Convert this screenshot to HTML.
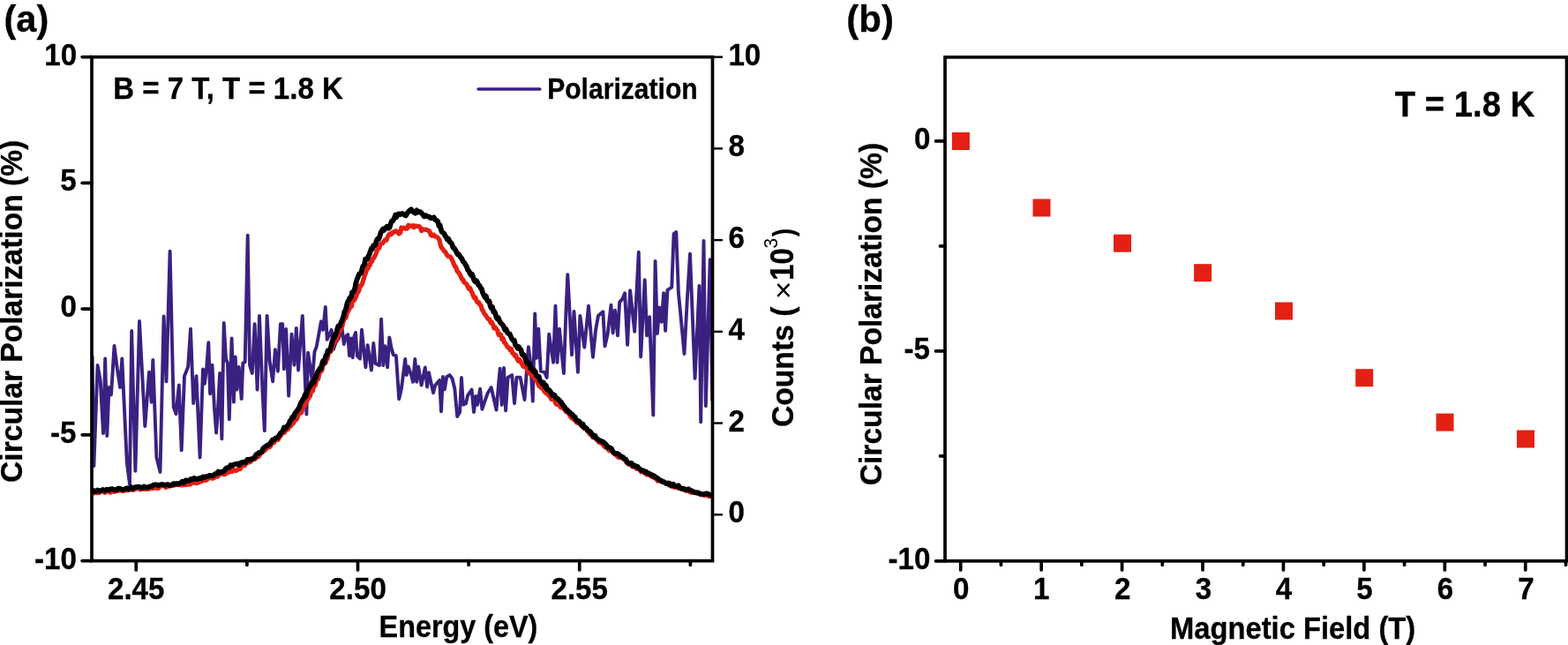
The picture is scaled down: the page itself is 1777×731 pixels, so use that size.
<!DOCTYPE html>
<html><head><meta charset="utf-8"><title>Figure</title>
<style>html,body{margin:0;padding:0;background:#fff;overflow:hidden}svg{display:block}</style>
</head><body>
<svg width="1777" height="731" viewBox="0 0 1777 731" font-family="'Liberation Sans', Arial, Helvetica, sans-serif" font-weight="bold">
<rect width="1777" height="731" fill="#fff"/>
<defs><clipPath id="ca"><rect x="104.0" y="64.6" width="703.5" height="571.0"/></clipPath></defs>
<g clip-path="url(#ca)">
<polyline points="104.6,404.0 106.4,528.0 110.6,414.0 113.7,431.0 117.0,491.0 119.2,406.5 121.3,494.0 123.5,439.0 126.0,447.5 129.5,392.0 132.8,417.5 136.1,439.0 138.3,406.5 143.8,524.0 147.0,548.8 149.2,375.0 153.4,533.7 158.0,364.0 164.3,483.0 169.0,421.6 171.7,455.8 173.3,408.0 177.4,518.5 181.5,534.9 185.6,358.5 188.5,432.3 192.6,284.6 196.7,461.0 199.5,469.2 202.8,436.4 205.7,510.3 209.0,426.2 213.1,415.9 216.0,372.8 219.2,457.0 222.5,426.2 226.6,518.5 230.0,418.4 231.9,434.7 234.2,416.0 236.3,388.1 238.1,446.3 240.5,413.7 242.8,460.2 245.1,490.5 246.7,469.5 249.1,423.0 251.4,497.4 253.7,366.0 256.0,406.7 257.9,411.4 259.8,475.3 262.6,383.5 264.9,455.6 266.7,404.4 268.4,441.6 270.7,416.0 273.7,452.1 275.3,411.4 277.7,410.2 280.7,266.6 283.0,413.7 285.8,423.0 288.6,367.2 291.6,441.6 294.0,357.9 297.4,441.6 299.8,488.1 302.6,357.9 305.6,409.1 309.1,432.3 311.9,396.3 314.9,420.7 317.9,367.2 320.2,367.2 321.9,418.4 324.2,373.0 327.2,448.6 330.5,378.8 333.5,413.7 335.8,371.9 338.1,419.5 340.5,385.8 342.8,357.9 345.8,432.3 347.4,469.5 349.1,399.8 353.8,431.3 356.5,398.5 358.7,393.0 363.9,364.3 366.1,373.9 368.8,347.9 370.7,384.8 375.7,373.9 377.9,395.8 380.6,388.0 383.9,383.5 387.7,372.5 389.8,390.0 392.0,381.3 394.2,379.1 396.0,403.2 397.9,383.5 399.7,405.4 401.4,381.3 403.0,376.9 404.7,403.2 408.0,406.5 410.0,373.6 412.2,396.6 414.4,416.3 416.6,391.1 420.9,419.6 423.3,389.0 425.5,411.9 429.9,414.1 432.1,361.6 434.3,414.1 436.5,392.2 439.1,416.3 441.3,382.4 443.5,394.4 445.7,402.1 448.9,403.2 452.2,452.4 455.0,440.0 459.2,406.9 460.7,425.1 462.7,415.5 466.1,425.1 468.0,432.8 470.3,406.9 472.2,432.8 474.2,415.5 477.6,436.6 481.8,416.5 484.1,438.5 486.0,422.2 491.0,445.2 493.3,436.6 498.1,430.9 500.0,466.3 501.9,427.0 503.8,441.4 506.3,427.0 509.6,425.1 512.5,429.0 515.3,440.4 518.2,472.0 521.1,467.3 523.0,428.0 524.9,458.6 528.0,457.2 530.1,448.1 534.6,441.6 537.0,467.0 539.2,448.9 541.1,458.8 544.1,440.7 546.4,463.7 552.6,445.7 556.7,439.1 562.5,464.5 566.6,417.8 568.7,458.8 571.0,416.9 573.1,465.4 575.6,427.6 580.2,425.1 583.0,457.2 585.5,427.6 589.6,427.6 594.5,453.0 596.6,424.3 598.9,393.1 601.4,412.8 603.8,454.7 606.2,355.4 608.1,405.9 610.3,372.6 612.8,420.7 617.2,421.9 619.7,428.0 622.2,378.8 627.1,410.8 629.5,346.8 631.5,410.8 634.0,372.6 636.4,398.5 638.9,423.1 641.4,354.2 643.3,311.1 645.6,354.2 648.0,402.2 650.5,352.9 654.9,421.9 657.4,357.9 662.3,393.6 667.0,346.8 671.9,404.7 675.1,373.9 678.0,357.8 683.4,353.3 685.5,392.4 688.6,378.9 692.5,345.8 694.6,377.4 697.0,351.8 700.0,380.4 702.1,342.8 705.7,338.2 708.1,332.2 711.1,390.9 714.1,329.2 719.2,375.9 723.8,285.6 726.2,404.4 730.7,317.2 733.1,380.4 736.1,359.3 740.3,470.5 742.6,296.0 744.9,378.0 747.2,348.5 749.8,364.9 752.1,332.1 754.1,374.8 756.4,328.8 761.3,325.5 763.6,264.8 766.3,263.1 768.9,332.1 771.2,355.1 775.5,401.0 778.7,341.9 782.0,287.8 787.6,428.9 792.5,323.9 794.2,478.2 797.5,273.0 799.8,460.1 804.7,294.3 807.3,453.5" fill="none" stroke="#3a2181" stroke-width="3.9" stroke-linejoin="round" stroke-linecap="round" />
<polyline points="104.0,558.3 106.1,558.9 108.2,558.3 110.3,558.6 112.4,558.5 114.5,556.9 116.6,556.5 118.7,558.4 120.8,556.8 122.9,556.5 125.0,558.2 127.1,556.7 129.2,557.4 131.3,556.3 133.4,556.5 135.5,555.1 137.6,556.1 139.7,556.5 141.8,555.4 143.9,555.8 146.0,555.5 148.1,553.8 150.2,555.3 152.3,554.7 154.5,553.9 156.6,553.0 158.7,554.9 160.8,553.8 162.9,554.2 165.0,554.5 167.2,553.9 169.3,554.2 171.4,552.7 173.5,553.5 175.6,552.4 177.7,553.4 179.8,553.1 181.9,550.9 183.9,550.7 186.0,550.7 188.1,552.4 190.2,550.8 192.3,551.1 194.4,550.0 196.4,550.3 198.5,549.7 200.6,549.3 202.7,549.7 204.7,549.4 206.8,549.9 208.8,549.1 210.9,549.4 212.9,548.9 215.0,549.0 217.0,547.8 219.0,546.1 221.1,547.5 223.1,547.4 225.1,546.8 227.0,545.5 229.0,545.4 231.0,543.5 232.9,544.6 234.8,543.3 236.7,541.9 238.6,540.7 240.5,542.3 242.4,542.0 244.2,538.8 246.1,540.2 248.0,538.5 249.9,537.1 251.8,536.9 253.7,537.6 255.6,537.3 257.5,534.4 259.4,535.4 261.2,533.1 263.1,534.4 265.0,532.6 266.9,533.5 268.7,533.0 270.5,530.9 272.3,531.5 274.1,528.6 275.8,526.9 277.5,527.5 279.2,524.7 280.9,524.2 282.6,523.7 284.2,523.2 285.8,520.5 287.4,519.0 289.0,520.4 290.6,517.3 292.2,518.2 293.7,516.8 295.3,513.7 296.8,512.7 298.4,511.5 299.9,510.7 301.4,509.2 303.0,507.7 304.5,506.6 306.1,506.4 307.6,503.5 309.1,501.9 310.6,501.6 312.2,498.5 313.7,497.4 315.2,498.3 316.7,495.3 318.2,494.0 319.7,490.7 321.2,490.7 322.6,489.9 324.1,486.4 325.6,487.0 327.0,485.6 328.5,481.9 329.9,482.5 331.3,480.2 332.7,479.4 334.1,476.3 335.4,476.0 336.8,474.2 338.0,469.4 339.3,467.6 340.5,468.3 341.7,467.6 342.9,462.4 344.1,461.3 345.3,459.9 346.5,456.7 347.7,454.9 348.9,452.5 350.1,450.5 351.2,449.3 352.2,445.5 353.3,443.6 354.4,443.3 355.4,437.2 356.5,437.7 357.5,436.2 358.5,431.7 359.6,428.9 360.6,429.6 361.7,424.4 362.7,421.9 363.8,420.8 364.8,419.8 365.9,414.5 366.9,413.3 368.0,411.1 369.0,411.3 370.1,407.0 371.1,406.8 372.1,401.0 373.2,399.6 374.2,398.9 375.3,397.7 376.4,393.5 377.5,390.3 378.6,387.6 379.8,387.3 380.8,383.3 381.9,384.1 382.9,381.9 383.9,375.9 384.9,374.0 385.9,374.4 386.9,371.2 387.9,369.6 388.9,365.0 390.0,361.6 391.0,360.1 392.1,360.3 393.1,355.4 394.2,353.5 395.2,351.5 396.3,349.2 397.3,346.9 398.4,347.2 399.4,341.0 400.5,338.0 401.5,340.4 402.6,337.8 403.7,336.1 404.7,331.1 405.8,331.3 406.9,329.0 408.1,323.7 409.2,323.9 410.3,322.0 411.3,318.7 412.3,315.6 413.3,311.9 414.3,309.8 415.3,306.8 416.3,303.6 417.3,304.0 418.3,300.1 419.4,300.4 420.4,294.5 421.5,296.5 422.6,293.3 423.7,292.3 424.9,290.0 426.0,287.9 427.2,284.5 428.4,280.1 429.7,281.3 430.9,277.2 432.3,276.0 433.6,275.8 435.0,273.8 436.5,271.8 437.9,272.2 439.2,268.9 440.5,266.4 442.0,264.8 443.5,265.6 445.1,263.2 446.8,263.1 448.6,261.6 450.4,262.7 451.9,264.9 453.8,263.8 454.9,258.0 455.9,258.7 457.3,258.0 459.4,259.2 461.3,259.2 462.9,255.3 464.5,256.2 466.1,256.1 468.1,255.7 469.2,257.7 470.9,256.0 472.5,256.4 474.7,256.4 476.5,258.2 477.7,261.7 478.9,260.2 481.0,260.2 483.1,260.4 484.9,261.2 486.7,262.0 488.3,266.4 489.8,267.3 491.4,265.9 493.1,267.9 495.0,268.4 496.5,269.8 497.9,271.8 499.0,276.8 499.9,279.9 500.7,281.0 501.9,282.3 503.2,284.5 504.6,285.3 506.1,288.3 507.5,290.3 509.0,290.6 510.5,291.2 511.8,293.3 513.2,296.1 514.4,299.3 515.6,302.3 516.7,302.6 517.8,306.7 518.9,308.0 520.1,309.3 521.2,311.1 522.4,313.7 523.6,316.5 524.8,317.1 526.1,320.1 527.4,320.9 528.7,321.8 530.0,324.8 531.3,327.2 532.6,326.5 533.9,329.8 535.1,331.7 536.4,335.5 537.6,337.7 538.9,337.2 540.1,341.4 541.3,342.9 542.6,342.6 543.8,345.4 545.0,345.9 546.2,350.8 547.4,352.2 548.7,355.1 549.9,356.7 551.1,358.2 552.3,360.4 553.5,361.6 554.7,361.6 556.0,365.5 557.2,365.0 558.5,367.4 559.8,371.8 561.1,370.7 562.4,372.7 563.7,374.5 565.0,379.4 566.3,378.4 567.6,379.5 568.9,384.6 570.2,383.5 571.5,388.1 572.9,389.2 574.2,391.6 575.5,393.8 576.8,394.1 578.1,396.7 579.5,395.4 580.8,400.1 582.1,400.8 583.4,403.4 584.8,402.7 586.1,406.9 587.5,409.3 588.8,407.6 590.2,410.2 591.6,412.7 593.0,415.4 594.4,414.8 595.8,416.1 597.2,418.0 598.6,421.1 599.9,423.2 601.3,423.5 602.7,425.0 604.1,426.8 605.4,428.4 606.8,430.3 608.1,430.7 609.5,434.0 610.9,437.5 612.2,437.0 613.6,439.9 615.0,439.3 616.4,442.8 617.8,444.6 619.2,445.8 620.7,446.8 622.1,448.1 623.6,450.2 625.0,452.6 626.5,451.4 628.0,452.6 629.4,456.4 630.9,458.4 632.4,458.3 633.9,459.5 635.5,461.8 637.0,461.3 638.5,462.9 640.0,464.1 641.5,466.8 643.0,467.2 644.5,468.3 646.0,471.4 647.5,473.7 649.0,472.8 650.5,475.7 652.0,476.1 653.5,479.0 655.0,479.4 656.5,479.7 658.0,480.9 659.5,481.6 661.0,484.6 662.5,485.7 664.0,486.3 665.6,488.3 667.1,489.5 668.6,492.4 670.2,491.5 671.7,495.7 673.3,495.3 674.8,497.0 676.4,497.8 677.9,500.4 679.5,501.6 681.0,502.0 682.6,503.0 684.2,505.1 685.7,506.8 687.3,506.5 688.9,508.9 690.5,510.9 692.0,510.4 693.6,510.9 695.2,512.1 696.8,514.8 698.4,515.9 700.1,517.9 701.7,518.7 703.3,517.9 705.0,518.8 706.6,520.2 708.2,521.1 709.9,523.8 711.5,525.4 713.2,526.6 714.8,525.7 716.5,528.7 718.2,528.0 719.8,529.4 721.5,531.4 723.2,530.4 724.9,531.5 726.6,534.8 728.3,534.1 730.0,535.3 731.7,536.9 733.4,538.1 735.1,537.0 736.9,539.0 738.6,540.2 740.4,541.2 742.1,541.3 743.9,543.3 745.7,545.2 747.4,544.4 749.2,545.6 751.0,545.2 752.8,546.4 754.7,548.2 756.5,547.4 758.4,550.2 760.2,550.9 762.1,549.3 764.0,552.3 765.9,551.3 767.8,553.0 769.7,553.6 771.6,552.9 773.5,554.5 775.4,555.1 777.3,556.1 779.2,555.2 781.1,557.1 783.0,558.2 785.0,557.9 786.9,558.1 788.8,557.5 790.8,559.0 792.7,559.2 794.7,560.7 796.6,561.0 798.6,561.2 800.5,560.6 802.5,562.3 804.5,562.7" fill="none" stroke="#e32013" stroke-width="5.2" stroke-linejoin="round" stroke-linecap="round" />
<polyline points="104.0,556.6 106.1,556.0 108.2,557.1 110.4,555.5 112.5,556.5 114.6,555.9 116.8,555.0 118.9,556.0 121.0,554.6 123.1,555.5 125.2,554.4 127.3,554.2 129.4,554.9 131.5,555.7 133.6,553.7 135.7,553.7 137.8,554.5 139.9,555.1 142.0,553.9 144.1,553.2 146.2,554.5 148.3,552.0 150.4,553.9 152.5,552.3 154.7,551.8 156.8,551.7 158.9,552.0 161.1,553.2 163.2,551.5 165.4,552.3 167.5,552.3 169.6,551.3 171.6,551.4 173.6,549.8 175.6,549.3 177.6,549.3 179.6,550.2 181.7,549.4 183.8,549.0 186.0,549.7 188.1,549.5 190.3,549.1 192.5,550.2 194.6,549.7 196.6,548.1 198.6,548.6 200.6,548.0 202.5,548.4 204.5,547.5 206.4,545.8 208.4,547.2 210.3,544.3 212.2,544.6 214.2,545.0 216.2,543.0 218.1,543.4 220.1,541.8 222.1,543.0 224.1,542.8 226.1,541.9 228.1,542.3 230.0,540.3 232.0,540.9 234.0,540.1 235.9,539.6 237.9,538.8 239.8,539.3 241.8,539.0 243.7,537.1 245.6,537.0 247.4,534.6 249.3,535.7 251.1,534.7 252.8,534.8 254.5,533.3 256.2,530.7 258.0,530.0 259.7,530.0 261.4,527.2 263.2,527.8 265.1,526.5 267.1,526.0 269.1,525.5 271.1,526.9 273.0,524.4 274.9,524.0 276.7,523.6 278.5,524.2 280.3,521.0 282.0,521.2 283.8,520.5 285.5,520.6 287.2,519.3 288.8,518.3 290.4,515.2 292.0,514.4 293.6,512.9 295.1,513.4 296.6,512.3 298.2,508.2 299.7,507.0 301.3,505.9 302.8,504.6 304.4,504.2 305.9,503.2 307.4,500.7 309.0,498.4 310.5,498.5 312.0,496.9 313.4,496.1 314.9,496.0 316.3,493.4 317.7,491.2 319.1,490.0 320.5,488.5 321.9,484.4 323.2,486.0 324.6,483.9 325.9,482.6 327.3,480.5 328.6,477.2 330.0,475.6 331.3,472.7 332.7,473.1 334.0,469.0 335.3,467.1 336.6,465.8 337.9,463.5 339.1,462.2 340.2,458.7 341.3,456.2 342.4,454.7 343.5,452.1 344.6,451.1 345.7,447.2 346.7,449.1 347.8,445.6 348.9,441.3 350.0,439.7 351.2,438.1 352.3,436.2 353.5,433.1 354.7,434.3 355.9,432.9 357.1,428.5 358.3,426.6 359.5,422.6 360.6,420.5 361.7,419.5 362.9,416.9 364.0,417.4 365.1,412.0 366.2,409.0 367.2,411.3 368.3,407.0 369.4,402.8 370.4,402.4 371.5,397.4 372.5,397.7 373.5,397.6 374.5,394.6 375.5,391.3 376.5,386.6 377.5,384.7 378.5,381.2 379.4,382.0 380.4,378.3 381.4,377.2 382.4,372.4 383.4,369.5 384.4,370.2 385.5,368.7 386.5,365.7 387.5,363.1 388.5,360.8 389.5,358.0 390.5,352.8 391.5,351.9 392.4,348.5 393.4,344.2 394.3,341.6 395.2,340.5 396.2,337.8 397.1,337.7 398.0,336.7 399.0,331.4 400.0,331.5 401.2,329.5 402.2,326.9 403.2,321.2 404.2,318.0 405.1,315.6 406.1,312.9 407.1,310.5 408.0,310.4 409.0,309.4 410.0,306.6 411.0,302.4 412.0,301.0 413.1,299.5 414.1,293.7 415.2,294.4 416.3,293.4 417.4,290.6 418.6,288.4 419.7,285.0 420.9,281.6 422.0,282.3 423.2,278.2 424.4,278.3 425.6,277.0 426.8,272.5 428.0,270.6 429.2,271.0 430.4,267.9 431.6,263.5 432.8,261.3 434.0,259.6 435.2,260.9 436.6,258.8 438.4,256.8 440.2,258.8 441.6,257.6 442.7,253.7 443.8,250.7 445.2,250.4 446.9,247.2 448.2,243.6 449.2,246.3 450.3,243.3 451.8,242.3 453.7,243.0 455.9,241.9 458.1,243.5 459.8,244.4 461.9,241.1 463.2,239.6 464.6,238.2 466.0,237.3 468.0,240.0 469.3,240.6 470.7,241.6 472.3,238.3 473.8,240.6 475.8,239.9 477.5,241.2 479.2,243.1 480.7,245.3 482.4,244.1 484.5,245.3 486.4,245.7 487.9,247.0 489.6,247.3 491.7,246.3 493.3,249.2 494.7,249.8 496.1,250.8 497.4,256.0 498.6,255.2 499.6,259.5 500.6,262.5 501.8,263.6 503.1,264.4 504.4,267.0 505.7,268.9 507.0,271.6 508.3,270.7 509.6,274.3 510.9,274.8 512.2,276.7 513.5,280.6 514.8,281.3 516.1,283.3 517.4,285.9 518.7,288.3 520.0,288.2 521.3,290.8 522.6,292.2 523.9,294.2 525.1,296.9 526.3,297.8 527.6,300.1 528.8,301.8 530.0,305.8 531.2,306.7 532.4,309.5 533.7,311.7 534.9,310.7 536.1,314.0 537.3,317.6 538.5,319.1 539.8,318.0 541.0,319.9 542.2,323.2 543.4,323.6 544.6,326.3 545.9,327.5 547.1,332.0 548.3,334.4 549.6,336.9 550.8,335.6 552.0,340.0 553.2,341.7 554.5,341.4 555.6,346.7 556.8,349.2 558.0,347.9 559.2,353.5 560.3,353.0 561.4,355.6 562.6,360.0 563.7,361.4 564.9,360.4 566.0,363.6 567.2,365.9 568.5,367.0 569.7,368.3 571.0,370.6 572.3,374.0 573.6,373.0 575.0,376.9 576.3,378.2 577.6,378.3 578.9,381.3 580.2,384.3 581.5,385.6 582.8,385.6 584.1,391.1 585.4,392.1 586.7,394.7 588.0,393.0 589.3,395.6 590.5,396.6 591.7,401.8 592.9,401.6 594.1,403.0 595.3,406.3 596.5,410.4 597.7,411.9 598.9,411.4 600.2,412.8 601.5,417.8 602.8,418.2 604.1,420.5 605.4,419.8 606.7,421.5 608.0,425.7 609.4,426.4 610.7,426.8 612.0,431.9 613.4,432.4 614.7,434.8 616.1,433.7 617.4,438.3 618.8,436.9 620.2,441.6 621.6,441.6 623.0,442.8 624.4,445.1 625.8,448.1 627.3,447.2 628.7,448.2 630.1,451.2 631.6,451.7 633.0,452.7 634.4,454.5 635.8,455.7 637.2,457.8 638.6,459.8 640.0,461.4 641.4,464.7 642.8,464.5 644.2,466.9 645.7,467.2 647.1,469.3 648.6,469.6 650.0,471.9 651.5,472.4 653.0,476.3 654.6,477.0 656.1,477.1 657.6,479.4 659.2,482.3 660.7,480.8 662.2,484.7 663.8,484.7 665.3,486.3 666.8,488.8 668.3,488.7 669.8,490.4 671.3,492.4 672.9,494.8 674.4,493.9 675.9,496.9 677.4,497.8 679.0,498.9 680.5,499.4 682.1,500.5 683.6,500.9 685.2,502.4 686.7,503.5 688.3,507.0 689.8,506.6 691.4,507.6 693.0,508.5 694.6,512.2 696.2,513.5 697.8,514.0 699.4,513.9 701.1,514.9 702.7,516.2 704.3,517.9 706.0,518.1 707.6,520.1 709.2,520.6 710.9,524.0 712.5,525.2 714.2,524.9 715.8,525.0 717.5,528.4 719.1,527.4 720.8,528.7 722.4,528.6 724.1,530.9 725.8,532.2 727.5,533.3 729.2,533.3 730.9,535.2 732.6,534.7 734.3,536.4 736.0,536.8 737.8,538.7 739.5,538.5 741.3,539.3 743.0,541.0 744.8,541.7 746.6,543.6 748.4,544.2 750.2,545.7 752.0,546.1 753.8,547.1 755.6,548.2 757.5,547.5 759.3,548.0 761.2,550.5 763.1,548.8 765.0,551.0 766.9,551.4 768.8,550.3 770.7,553.1 772.6,553.9 774.5,553.7 776.4,554.6 778.3,555.4 780.2,554.1 782.1,555.7 784.1,556.2 786.0,557.6 787.9,558.1 789.9,558.7 791.8,558.5 793.7,559.9 795.7,559.8 797.6,560.3 799.6,559.5 801.6,559.5 803.5,560.2 805.5,561.3" fill="none" stroke="#000" stroke-width="5.8" stroke-linejoin="round" stroke-linecap="round" />
</g>
<line x1="93.20" y1="635.60" x2="104.00" y2="635.60" stroke="#000" stroke-width="3.7" stroke-linecap="round"/>
<line x1="93.20" y1="492.85" x2="104.00" y2="492.85" stroke="#000" stroke-width="3.7" stroke-linecap="round"/>
<line x1="93.20" y1="350.10" x2="104.00" y2="350.10" stroke="#000" stroke-width="3.7" stroke-linecap="round"/>
<line x1="93.20" y1="207.35" x2="104.00" y2="207.35" stroke="#000" stroke-width="3.7" stroke-linecap="round"/>
<line x1="93.20" y1="64.60" x2="104.00" y2="64.60" stroke="#000" stroke-width="3.7" stroke-linecap="round"/>
<line x1="807.50" y1="583.30" x2="819.00" y2="583.30" stroke="#000" stroke-width="2.4" stroke-linecap="butt"/>
<line x1="807.50" y1="479.56" x2="819.00" y2="479.56" stroke="#000" stroke-width="2.4" stroke-linecap="butt"/>
<line x1="807.50" y1="375.82" x2="819.00" y2="375.82" stroke="#000" stroke-width="2.4" stroke-linecap="butt"/>
<line x1="807.50" y1="272.08" x2="819.00" y2="272.08" stroke="#000" stroke-width="2.4" stroke-linecap="butt"/>
<line x1="807.50" y1="168.34" x2="819.00" y2="168.34" stroke="#000" stroke-width="2.4" stroke-linecap="butt"/>
<line x1="807.50" y1="64.60" x2="819.00" y2="64.60" stroke="#000" stroke-width="2.4" stroke-linecap="butt"/>
<line x1="154.25" y1="635.60" x2="154.25" y2="645.90" stroke="#000" stroke-width="3.7" stroke-linecap="round"/>
<line x1="405.50" y1="635.60" x2="405.50" y2="645.90" stroke="#000" stroke-width="3.7" stroke-linecap="round"/>
<line x1="656.75" y1="635.60" x2="656.75" y2="645.90" stroke="#000" stroke-width="3.7" stroke-linecap="round"/>
<line x1="279.88" y1="635.60" x2="279.88" y2="640.30" stroke="#000" stroke-width="3.7" stroke-linecap="round"/>
<line x1="531.12" y1="635.60" x2="531.12" y2="640.30" stroke="#000" stroke-width="3.7" stroke-linecap="round"/>
<line x1="782.38" y1="635.60" x2="782.38" y2="640.30" stroke="#000" stroke-width="3.7" stroke-linecap="round"/>
<rect x="104.0" y="64.6" width="703.5" height="571.0" fill="none" stroke="#000" stroke-width="3.7"/>
<line x1="542.00" y1="101.00" x2="611.90" y2="101.00" stroke="#3a2181" stroke-width="3.5" stroke-linecap="round"/>
<line x1="1060.50" y1="159.97" x2="1071.00" y2="159.97" stroke="#000" stroke-width="3.7" stroke-linecap="round"/>
<line x1="1060.50" y1="397.88" x2="1071.00" y2="397.88" stroke="#000" stroke-width="3.7" stroke-linecap="round"/>
<line x1="1060.50" y1="635.80" x2="1071.00" y2="635.80" stroke="#000" stroke-width="3.7" stroke-linecap="round"/>
<line x1="1065.50" y1="278.93" x2="1071.00" y2="278.93" stroke="#000" stroke-width="3.7" stroke-linecap="round"/>
<line x1="1065.50" y1="516.84" x2="1071.00" y2="516.84" stroke="#000" stroke-width="3.7" stroke-linecap="round"/>
<line x1="1088.70" y1="635.80" x2="1088.70" y2="645.90" stroke="#000" stroke-width="3.7" stroke-linecap="round"/>
<line x1="1180.14" y1="635.80" x2="1180.14" y2="645.90" stroke="#000" stroke-width="3.7" stroke-linecap="round"/>
<line x1="1271.58" y1="635.80" x2="1271.58" y2="645.90" stroke="#000" stroke-width="3.7" stroke-linecap="round"/>
<line x1="1363.02" y1="635.80" x2="1363.02" y2="645.90" stroke="#000" stroke-width="3.7" stroke-linecap="round"/>
<line x1="1454.46" y1="635.80" x2="1454.46" y2="645.90" stroke="#000" stroke-width="3.7" stroke-linecap="round"/>
<line x1="1545.90" y1="635.80" x2="1545.90" y2="645.90" stroke="#000" stroke-width="3.7" stroke-linecap="round"/>
<line x1="1637.34" y1="635.80" x2="1637.34" y2="645.90" stroke="#000" stroke-width="3.7" stroke-linecap="round"/>
<line x1="1728.78" y1="635.80" x2="1728.78" y2="645.90" stroke="#000" stroke-width="3.7" stroke-linecap="round"/>
<line x1="1134.42" y1="635.80" x2="1134.42" y2="640.30" stroke="#000" stroke-width="3.7" stroke-linecap="round"/>
<line x1="1225.86" y1="635.80" x2="1225.86" y2="640.30" stroke="#000" stroke-width="3.7" stroke-linecap="round"/>
<line x1="1317.30" y1="635.80" x2="1317.30" y2="640.30" stroke="#000" stroke-width="3.7" stroke-linecap="round"/>
<line x1="1408.74" y1="635.80" x2="1408.74" y2="640.30" stroke="#000" stroke-width="3.7" stroke-linecap="round"/>
<line x1="1500.18" y1="635.80" x2="1500.18" y2="640.30" stroke="#000" stroke-width="3.7" stroke-linecap="round"/>
<line x1="1591.62" y1="635.80" x2="1591.62" y2="640.30" stroke="#000" stroke-width="3.7" stroke-linecap="round"/>
<line x1="1683.06" y1="635.80" x2="1683.06" y2="640.30" stroke="#000" stroke-width="3.7" stroke-linecap="round"/>
<line x1="1774.50" y1="635.80" x2="1774.50" y2="640.30" stroke="#000" stroke-width="3.7" stroke-linecap="round"/>
<rect x="1071.0" y="64.8" width="704.5" height="571.0" fill="none" stroke="#000" stroke-width="3.7"/>
<rect x="1078.90" y="150.00" width="20" height="20" fill="#e32013"/>
<rect x="1170.50" y="225.50" width="20" height="20" fill="#e32013"/>
<rect x="1262.00" y="265.70" width="20" height="20" fill="#e32013"/>
<rect x="1353.10" y="299.20" width="20" height="20" fill="#e32013"/>
<rect x="1445.00" y="342.50" width="20" height="20" fill="#e32013"/>
<rect x="1536.20" y="418.20" width="20" height="20" fill="#e32013"/>
<rect x="1627.50" y="468.60" width="20" height="20" fill="#e32013"/>
<rect x="1719.00" y="487.50" width="20" height="20" fill="#e32013"/>
<text transform="translate(4.55,35.85) scale(0.9771,1.000)" font-size="42.5" stroke="#000" stroke-width="0.3">(a)</text>
<text transform="translate(959.33,35.70) scale(0.9871,1.000)" font-size="42.5" stroke="#000" stroke-width="0.3">(b)</text>
<text transform="translate(429.60,722.25) scale(0.9515,1.005)" font-size="34" stroke="#000" stroke-width="0.3">Energy (eV)</text>
<text transform="translate(1325.97,723.90) scale(0.9632,1.005)" font-size="34" stroke="#000" stroke-width="0.3">Magnetic Field (T)</text>
<text transform="translate(620.17,111.50) scale(0.9902,1.075)" font-size="30.4" stroke="#000" stroke-width="0.3">Polarization</text>
<text transform="translate(128.22,112.30) scale(0.9885,1.045)" font-size="33.4" stroke="#000" stroke-width="0.3">B = 7 T, T = 1.8 K</text>
<text transform="translate(1580.85,131.90) scale(0.9890,1.030)" font-size="38.7" stroke="#000" stroke-width="0.3">T = 1.8 K</text>
<text transform="translate(24.90,546.94) rotate(-90) scale(0.9881,1.005)" font-size="34" stroke="#000" stroke-width="0.3">Circular Polarization (%)</text>
<text transform="translate(999.00,550.24) rotate(-90) scale(0.9889,1.005)" font-size="34" stroke="#000" stroke-width="0.3">Circular Polarization (%)</text>
<text transform="translate(899.20,484.04) rotate(-90) scale(0.9901,1.005)" font-size="34" stroke="#000" stroke-width="0.3">Counts (</text>
<text transform="translate(898.90,339.30) rotate(-90) scale(1.0400,1.000)" font-size="34" font-weight="normal">×</text>
<text transform="translate(899.10,317.83) rotate(-90) scale(0.9652,1.080)" font-size="34" stroke="#000" stroke-width="0.3">10</text>
<text transform="translate(880.70,281.53) rotate(-90) scale(0.9756,1.040)" font-size="21.5" font-weight="normal">3</text>
<text transform="translate(899.20,268.10) rotate(-90) scale(0.8000,1.000)" font-size="34" stroke="#000" stroke-width="0.3">)</text>
<text transform="translate(39.00,644.70) scale(0.9750,1.010)" font-size="34" stroke="#000" stroke-width="0.3">-10</text>
<text transform="translate(57.04,501.95) scale(0.9750,1.010)" font-size="34" stroke="#000" stroke-width="0.3">-5</text>
<text transform="translate(68.49,359.20) scale(0.9750,1.010)" font-size="34" stroke="#000" stroke-width="0.3">0</text>
<text transform="translate(68.25,216.45) scale(0.9750,1.010)" font-size="34" stroke="#000" stroke-width="0.3">5</text>
<text transform="translate(50.21,73.70) scale(0.9750,1.010)" font-size="34" stroke="#000" stroke-width="0.3">10</text>
<text transform="translate(825.38,592.40) scale(0.9750,1.010)" font-size="34" stroke="#000" stroke-width="0.3">0</text>
<text transform="translate(825.38,488.66) scale(0.9750,1.010)" font-size="34" stroke="#000" stroke-width="0.3">2</text>
<text transform="translate(825.38,384.92) scale(0.9750,1.010)" font-size="34" stroke="#000" stroke-width="0.3">4</text>
<text transform="translate(825.38,281.18) scale(0.9750,1.010)" font-size="34" stroke="#000" stroke-width="0.3">6</text>
<text transform="translate(825.38,177.44) scale(0.9750,1.010)" font-size="34" stroke="#000" stroke-width="0.3">8</text>
<text transform="translate(825.38,73.70) scale(0.9750,1.010)" font-size="34" stroke="#000" stroke-width="0.3">10</text>
<text transform="translate(121.95,678.60) scale(0.9750,1.010)" font-size="34" stroke="#000" stroke-width="0.3">2.45</text>
<text transform="translate(373.33,678.60) scale(0.9750,1.010)" font-size="34" stroke="#000" stroke-width="0.3">2.50</text>
<text transform="translate(624.45,678.60) scale(0.9750,1.010)" font-size="34" stroke="#000" stroke-width="0.3">2.55</text>
<text transform="translate(1035.89,169.07) scale(0.9750,1.010)" font-size="34" stroke="#000" stroke-width="0.3">0</text>
<text transform="translate(1024.44,406.98) scale(0.9750,1.010)" font-size="34" stroke="#000" stroke-width="0.3">-5</text>
<text transform="translate(1006.40,644.90) scale(0.9750,1.010)" font-size="34" stroke="#000" stroke-width="0.3">-10</text>
<text transform="translate(1080.04,678.60) scale(0.9750,1.010)" font-size="34" stroke="#000" stroke-width="0.3">0</text>
<text transform="translate(1170.99,678.60) scale(0.9750,1.010)" font-size="34" stroke="#000" stroke-width="0.3">1</text>
<text transform="translate(1263.04,678.60) scale(0.9750,1.010)" font-size="34" stroke="#000" stroke-width="0.3">2</text>
<text transform="translate(1354.72,678.60) scale(0.9750,1.010)" font-size="34" stroke="#000" stroke-width="0.3">3</text>
<text transform="translate(1445.68,678.60) scale(0.9750,1.010)" font-size="34" stroke="#000" stroke-width="0.3">4</text>
<text transform="translate(1537.24,678.60) scale(0.9750,1.010)" font-size="34" stroke="#000" stroke-width="0.3">5</text>
<text transform="translate(1628.80,678.60) scale(0.9750,1.010)" font-size="34" stroke="#000" stroke-width="0.3">6</text>
<text transform="translate(1720.24,678.60) scale(0.9750,1.010)" font-size="34" stroke="#000" stroke-width="0.3">7</text>
</svg>
</body></html>
